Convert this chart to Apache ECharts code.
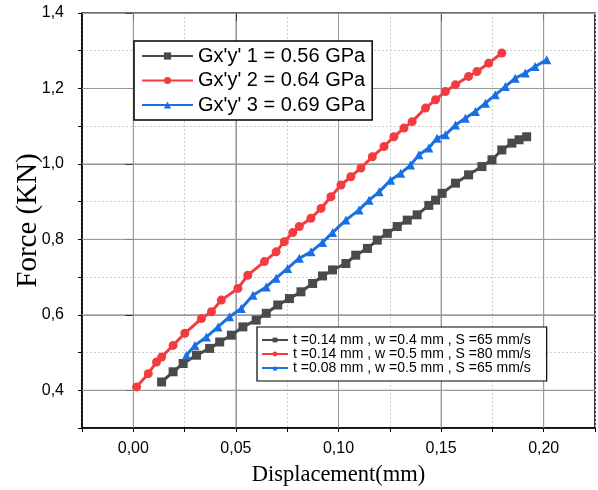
<!DOCTYPE html>
<html>
<head>
<meta charset="utf-8">
<script src="https://cdn.jsdelivr.net/npm/echarts@6/dist/echarts.min.js"></script>
<style>html,body{margin:0;padding:0;background:#fff}#c{width:598px;height:490px}</style>
</head>
<body>
<div id="c"></div>
<script>
// ---- data ----
const seriesNames = ["Gx'y' 1 = 0.56 GPa", "Gx'y' 2 = 0.64 GPa", "Gx'y' 3 = 0.69 GPa"];
const paramNames = ["t =0.14 mm , w =0.4 mm , S =65 mm/s", "t =0.14 mm , w =0.5 mm , S =80 mm/s", "t =0.08 mm , w =0.5 mm , S =65 mm/s"];

const grayX = [0.0138,0.0194,0.0243,0.0308,0.0372,0.0421,0.0478,0.0534,0.0599,0.0648,0.0704,0.0761,0.0817,0.0874,0.0922,0.0971,0.1036,0.1084,0.1141,0.1189,0.1238,0.1286,0.1335,0.1383,0.1440,0.1473,0.1505,0.1570,0.1634,0.1699,0.1748,0.1796,0.1845,0.1880,0.1917];
const grayY = [0.422,0.449,0.471,0.493,0.511,0.528,0.546,0.568,0.586,0.604,0.626,0.643,0.661,0.683,0.703,0.719,0.736,0.758,0.776,0.798,0.816,0.834,0.851,0.865,0.890,0.904,0.922,0.949,0.971,0.993,1.011,1.037,1.055,1.064,1.072];

const redX = [0.0016,0.0073,0.0113,0.0138,0.0194,0.0251,0.0332,0.0381,0.0429,0.0510,0.0558,0.0639,0.0696,0.0736,0.0777,0.0809,0.0866,0.0915,0.0963,0.1012,0.1060,0.1109,0.1165,0.1222,0.1270,0.1319,0.1359,0.1424,0.1473,0.1521,0.1570,0.1634,0.1675,0.1732,0.1796];
const redY = [0.409,0.444,0.475,0.488,0.519,0.551,0.590,0.608,0.639,0.670,0.705,0.741,0.767,0.794,0.818,0.834,0.856,0.882,0.913,0.944,0.966,0.989,1.019,1.046,1.072,1.095,1.112,1.148,1.170,1.192,1.210,1.232,1.245,1.267,1.294];

const blueX = [0.0259,0.0300,0.0356,0.0413,0.0469,0.0526,0.0583,0.0648,0.0696,0.0752,0.0809,0.0866,0.0922,0.0971,0.1036,0.1100,0.1149,0.1198,0.1254,0.1303,0.1351,0.1392,0.1440,0.1480,0.1521,0.1570,0.1618,0.1667,0.1716,0.1764,0.1813,0.1861,0.1910,0.1958,0.2015];
const blueY = [0.493,0.519,0.541,0.568,0.595,0.617,0.652,0.674,0.697,0.723,0.750,0.767,0.792,0.818,0.851,0.878,0.904,0.926,0.957,0.975,0.997,1.024,1.042,1.068,1.077,1.103,1.121,1.139,1.161,1.183,1.205,1.227,1.241,1.258,1.276];

const xMajorTicks = [0, 0.05, 0.10, 0.15, 0.20];
const xTickLabels = ['0,00', '0,05', '0,10', '0,15', '0,20'];
const yMajorTicks = [0.4, 0.6, 0.8, 1.0, 1.2, 1.4];
const yTickLabels = ['0,4', '0,6', '0,8', '1,0', '1,2', '1,4'];
const xRange = [-0.025, 0.225];
const yRange = [0.3, 1.4];

// ---- styling ----
const colors = ['#4a4a4a', '#f23c3f', '#1a6fe3'];
const symbols = ['rect', 'circle', 'triangle'];
const sansFont = '"Liberation Sans", Arial, sans-serif';
const serifFont = '"Liberation Serif", "Times New Roman", serif';
const MAJOR = '#9a9a9a';
const MINOR = '#d0d0d0';

// plot box (pixels)
const G = { left: 82, right: 3, top: 13, bottom: 62 };
const plotW = 598 - G.left - G.right;

function zip(xs, ys) { return xs.map((x, i) => [x, ys[i]]); }
const dataSets = [zip(grayX, grayY), zip(redX, redY), zip(blueX, blueY)];

function labelFor(v, ticks, labels) {
  for (let i = 0; i < ticks.length; i++) if (Math.abs(v - ticks[i]) < 1e-6) return labels[i];
  return '';
}

const series = [];
// major grid lines as thin line series, built from the major tick values
function gridSeries(name, pts) {
  return {
    type: 'line', name: name, data: pts, z: 1, silent: true, symbol: 'none', showSymbol: false,
    xAxisIndex: 0, yAxisIndex: 0, clip: false,
    lineStyle: { color: MAJOR, width: 1, type: 'solid', opacity: 1 }, emphasis: { disabled: true }
  };
}
yMajorTicks.forEach((v, i) => series.push(gridSeries('hgrid' + i, [[xRange[0], v], [xRange[1], v]])));
xMajorTicks.forEach((v, i) => series.push(gridSeries('vgrid' + i, [[v, yRange[0]], [v, yRange[1]]])));

for (let i = 0; i < 3; i++) {
  series.push({
    type: 'line', name: seriesNames[i], data: dataSets[i], z: 3,
    xAxisIndex: 0, yAxisIndex: 0,
    color: colors[i], symbol: symbols[i], symbolSize: 9, showSymbol: true,
    lineStyle: { width: 3, color: colors[i] },
    itemStyle: { color: colors[i] }
  });
}
for (let i = 0; i < 3; i++) {
  series.push({
    type: 'line', name: paramNames[i], data: [], z: 3,
    xAxisIndex: 0, yAxisIndex: 0,
    color: colors[i], symbol: symbols[i], symbolSize: 5,
    lineStyle: { width: 1.5, color: colors[i] },
    itemStyle: { color: colors[i] }
  });
}

const hidden = { axisLine: { show: false }, axisLabel: { show: false }, axisTick: { show: false } };
const majorSplit = { show: true, showMinLine: true, showMaxLine: true, lineStyle: { color: MAJOR, width: 1, type: 'solid' } };

const xStep = xMajorTicks[1] - xMajorTicks[0];
const halfStepPx = (xStep / 2) / (xRange[1] - xRange[0]) * plotW;

const chart = echarts.init(document.getElementById('c'), null, { renderer: 'canvas' });
chart.setOption({
  animation: false,
  backgroundColor: '#fff',
  grid: [
    { left: G.left, right: G.right, top: G.top, bottom: G.bottom, show: true, borderColor: '#000', borderWidth: 1.5,
      backgroundColor: 'transparent', containLabel: false, outerBoundsMode: 'none', z: 0 },
    { left: G.left - halfStepPx, right: G.right - halfStepPx, top: G.top, bottom: G.bottom, show: false,
      containLabel: false, outerBoundsMode: 'none', z: 0 }
  ],
  xAxis: [{
    gridIndex: 0, type: 'value', min: xRange[0], max: xRange[1], interval: 0.025,
    name: 'Displacement(mm)', nameLocation: 'middle', nameGap: 36, nameMoveOverlap: false,
    nameTextStyle: { fontFamily: serifFont, fontSize: 22.5, color: '#000' },
    axisLine: { show: true, onZero: false, lineStyle: { color: '#000', width: 1.5 } },
    axisTick: { show: true, length: 4, inside: false, lineStyle: { color: '#000', width: 1 } },
    axisLabel: { interval: 0, margin: 13, fontFamily: sansFont, fontSize: 16, color: '#000',
      showMinLabel: true, showMaxLabel: true,
      formatter: v => labelFor(v, xMajorTicks, xTickLabels) },
    splitLine: { show: true, lineStyle: { color: MINOR, width: 1, type: [2, 2] } }
  }, {
    gridIndex: 0, type: 'value', min: xRange[0], max: xRange[1], position: 'bottom', offset: 0,
    axisLine: { show: false }, axisLabel: { show: false }, splitLine: { show: false },
    axisTick: { show: true, length: 8, customValues: xMajorTicks, lineStyle: { color: '#000', width: 1 } }
  }, Object.assign({
    gridIndex: 1, type: 'value', min: xMajorTicks[0] - xStep, max: xMajorTicks[xMajorTicks.length - 1] + xStep, interval: xStep,
    splitLine: Object.assign({}, majorSplit, { showMinLine: false, showMaxLine: false })
  }, hidden)],
  yAxis: [{
    gridIndex: 0, type: 'value', min: yRange[0], max: yRange[1], interval: 0.1,
    name: 'Force (KN)', nameLocation: 'middle', nameGap: 39, nameRotate: 90, nameMoveOverlap: false,
    nameTextStyle: { fontFamily: serifFont, fontSize: 29, color: '#000' },
    axisLine: { show: true, onZero: false, lineStyle: { color: '#000', width: 1.5 } },
    axisTick: { show: true, length: 4, lineStyle: { color: '#000', width: 1 } },
    axisLabel: { interval: 0, margin: 18, fontFamily: sansFont, fontSize: 16, color: '#000',
      showMinLabel: true, showMaxLabel: true,
      formatter: v => labelFor(v, yMajorTicks, yTickLabels) },
    splitLine: { show: true, lineStyle: { color: MINOR, width: 1, type: [2, 2] } }
  }, {
    gridIndex: 0, type: 'value', min: yRange[0], max: yRange[1], position: 'left', offset: 0,
    axisLine: { show: false }, axisLabel: { show: false }, splitLine: { show: false },
    axisTick: { show: true, length: 8, customValues: yMajorTicks, lineStyle: { color: '#000', width: 1 } }
  }, Object.assign({
    gridIndex: 0, type: 'value', inverse: true, min: 0, max: yRange[1] - yRange[0], interval: 0.2,
    splitLine: majorSplit
  }, hidden), Object.assign({
    gridIndex: 1, type: 'value', min: yRange[0], max: yRange[1], splitLine: { show: false }
  }, hidden)],
  legend: [{
    data: seriesNames, orient: 'vertical', left: 134, top: 41,
    padding: [5, 7, 5, 7], itemGap: 4.5, itemWidth: 51, itemHeight: 9,
    backgroundColor: '#fff', borderColor: '#000', borderWidth: 1.5, borderRadius: 0,
    selectedMode: false,
    textStyle: { fontFamily: sansFont, fontSize: 20, color: '#000', lineHeight: 20 }
  }, {
    data: paramNames, orient: 'vertical', left: 257, top: 327,
    padding: [6, 16, 6, 4], itemGap: 0, itemWidth: 26, itemHeight: 6,
    backgroundColor: '#fff', borderColor: '#000', borderWidth: 1.2, borderRadius: 0,
    selectedMode: false,
    textStyle: { fontFamily: sansFont, fontSize: 14, color: '#000', lineHeight: 12.5 }
  }],
  series: series
});
</script>
</body>
</html>
